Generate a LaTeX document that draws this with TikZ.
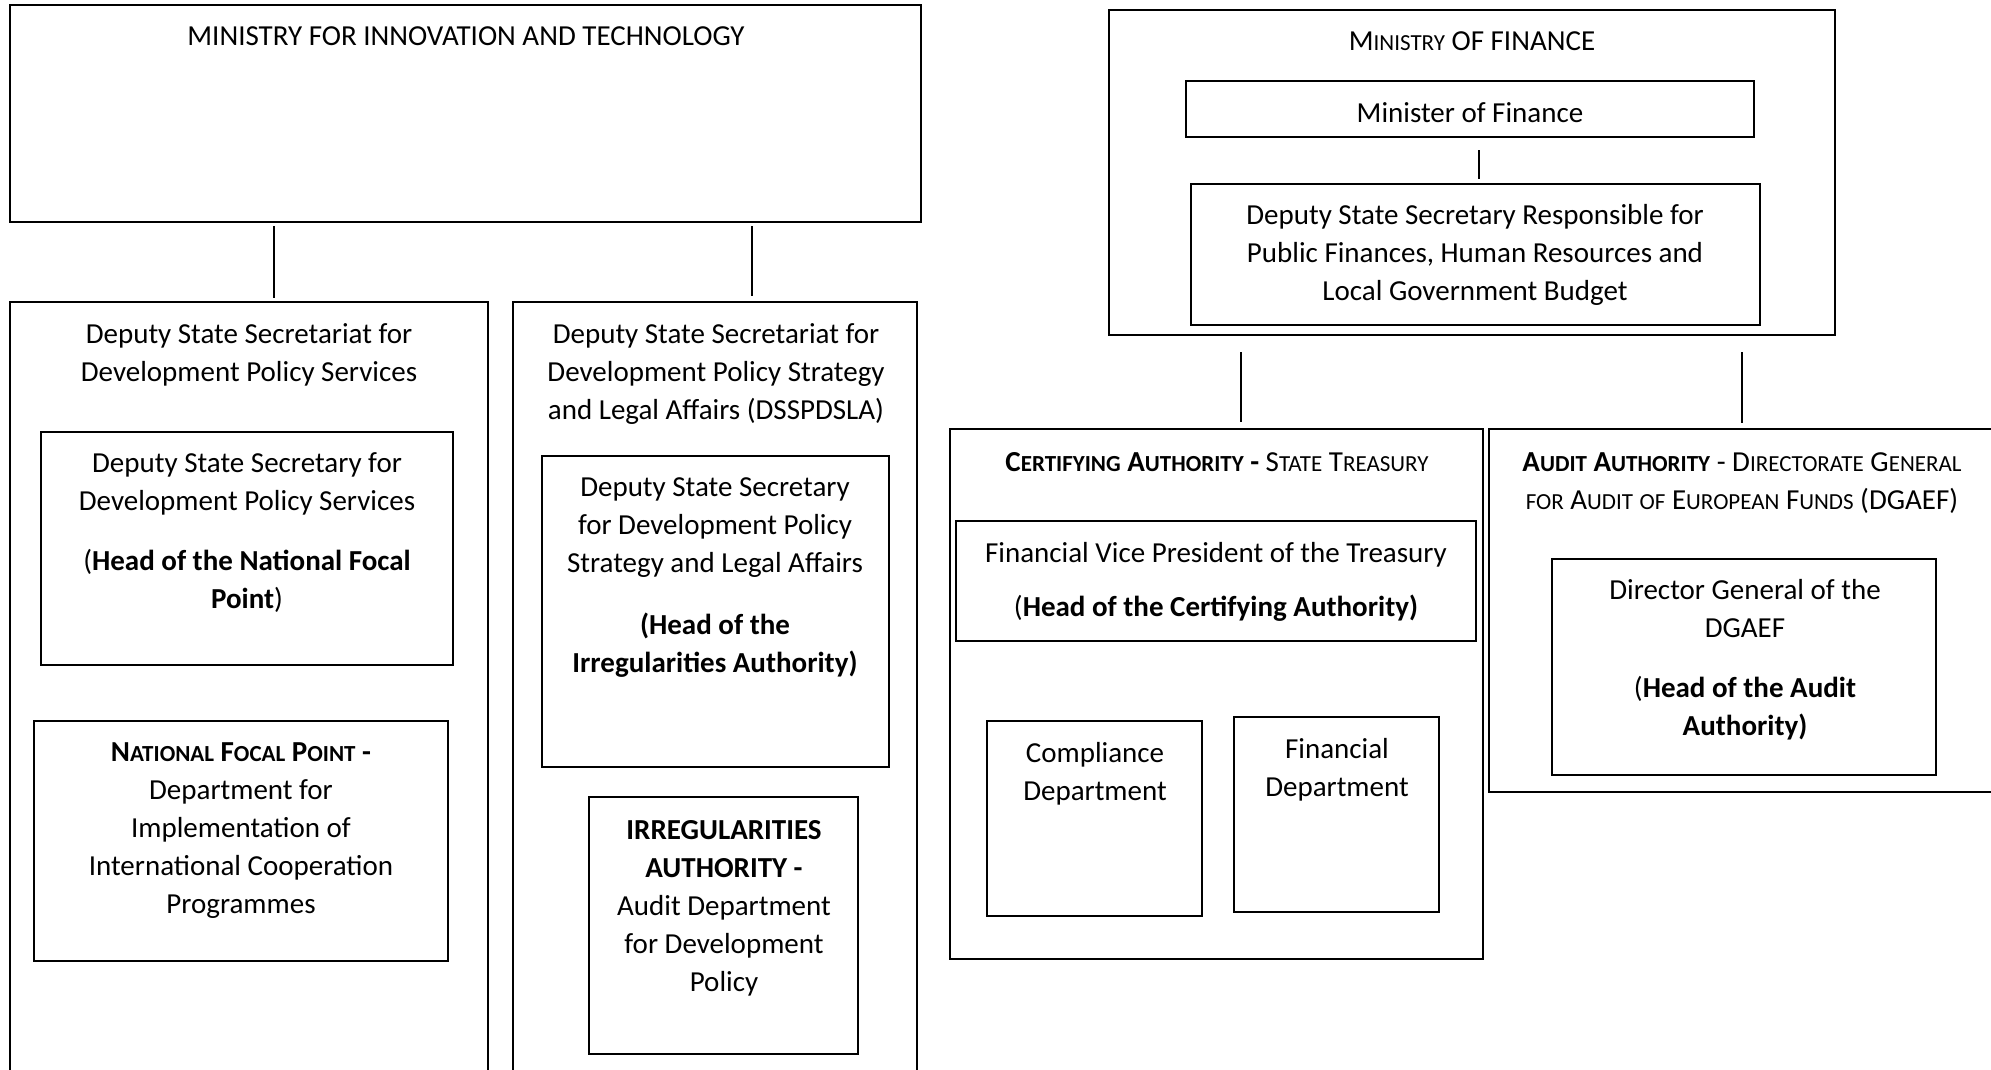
\documentclass[tikz,border=0pt]{standalone}
\usepackage{fontspec}
\setmainfont{Carlito}
\usetikzlibrary{fit}
\newcommand\smc[1]{{\fontsize{11.5pt}{19pt}\selectfont #1}}
\begin{document}
\begin{tikzpicture}[x=0.5pt,y=-0.5pt,
  box/.style={draw, line width=1pt, inner sep=0pt, rectangle},
  obox/.style={draw, line width=1.2pt, inner sep=0pt, rectangle},
  lbl/.style={align=center, inner sep=0pt, yshift=-1.2pt, font=\fontsize{14.5pt}{19pt}\selectfont},
  conn/.style={line width=1pt}]
\clip (0,0) rectangle (1991,1070);
\fill[white] (0,0) rectangle (1991,1070);

% ---- Ministry for Innovation and Technology
\node[obox, fit={(10,5) (921,222)}] (mit) {};
\node[lbl] (mitT) at (466,34) {MINISTRY FOR INNOVATION AND TECHNOLOGY};

\node[obox, fit={(10,302) (488,1100)}] (dsps) {};
\node[lbl] (dspsT) at (249,352) {Deputy State Secretariat for\\Development Policy Services};
\node[box, fit={(41,432) (453,665)}] (dss1) {};
\node[lbl] (dss1T) at (247,530) {Deputy State Secretary for\\Development Policy Services\\[11pt](\textbf{Head of the National Focal}\\\textbf{Point})};
\node[box, fit={(34,721) (448,961)}] (nfp) {};
\node[lbl] (nfpT) at (241,828) {\textbf{N\smc{ATIONAL} F\smc{OCAL} P\smc{OINT} -}\\Department for\\Implementation of\\International Cooperation\\Programmes};

\node[obox, fit={(513,302) (917,1100)}] (dssp) {};
\node[lbl] (dsspT) at (716,372) {Deputy State Secretariat for\\Development Policy Strategy\\and Legal Affairs (DSSPDSLA)};
\node[box, fit={(542,456) (889,767)}] (dss2) {};
\node[lbl] (dss2T) at (715,575) {Deputy State Secretary\\for Development Policy\\Strategy and Legal Affairs\\[12pt]\textbf{(Head of the}\\\textbf{Irregularities Authority)}};
\node[box, fit={(589,797) (858,1054)}] (irr) {};
\node[lbl] (irrT) at (724,906) {\textbf{IRREGULARITIES}\\\textbf{AUTHORITY -}\\Audit Department\\for Development\\Policy};

\coordinate (l1a) at (274,226); \coordinate (l1b) at (274,298);
\coordinate (l2a) at (752,226); \coordinate (l2b) at (752,296);
\draw[conn] (l1a) -- (l1b);
\draw[conn] (l2a) -- (l2b);

% ---- Ministry of Finance
\node[obox, fit={(1109,10) (1835,335)}] (mof) {};
\node[lbl] (mofT) at (1472,39) {M\smc{INISTRY} OF FINANCE};
\node[box, fit={(1186,81) (1754,137)}] (min) {};
\node[lbl] (minT) at (1470,110) {Minister of Finance};
\node[box, fit={(1191,184) (1760,325)}] (dep) {};
\node[lbl] (depT) at (1475,253) {Deputy State Secretary Responsible for\\Public Finances, Human Resources and\\Local Government Budget};
\coordinate (l3a) at (1479,150); \coordinate (l3b) at (1479,179);
\draw[conn] (l3a) -- (l3b);

\coordinate (l4a) at (1241,352); \coordinate (l4b) at (1241,422);
\coordinate (l5a) at (1742,352); \coordinate (l5b) at (1742,423);
\draw[conn] (l4a) -- (l4b);
\draw[conn] (l5a) -- (l5b);

% ---- Certifying Authority
\node[obox, fit={(950,429) (1483,959)}] (ca) {};
\node[lbl] (caT) at (1217,460) {\textbf{C\smc{ERTIFYING} A\smc{UTHORITY} -} S\smc{TATE} T\smc{REASURY}};
\node[box, fit={(956,521) (1476,641)}] (fvp) {};
\node[lbl] (fvpT) at (1216,579) {Financial Vice President of the Treasury\\[8pt](\textbf{Head of the Certifying Authority)}};
\node[box, fit={(987,721) (1202,916)}] (comp) {};
\node[lbl] (compT) at (1095,771) {Compliance\\Department};
\node[box, fit={(1234,717) (1439,912)}] (fin) {};
\node[lbl] (finT) at (1337,767) {Financial\\Department};

% ---- Audit Authority
\node[obox, fit={(1489,429) (2010,792)}] (aa) {};
\node[lbl] (aaT) at (1742,481) {\textbf{A\smc{UDIT} A\smc{UTHORITY}} - D\smc{IRECTORATE} G\smc{ENERAL}\\\smc{FOR} A\smc{UDIT} \smc{OF} E\smc{UROPEAN} F\smc{UNDS} (DGAEF)};
\node[box, fit={(1552,559) (1936,775)}] (dg) {};
\node[lbl] (dgT) at (1745,657) {Director General of the\\DGAEF\\[11pt](\textbf{Head of the Audit}\\\textbf{Authority)}};
\end{tikzpicture}
\end{document}
